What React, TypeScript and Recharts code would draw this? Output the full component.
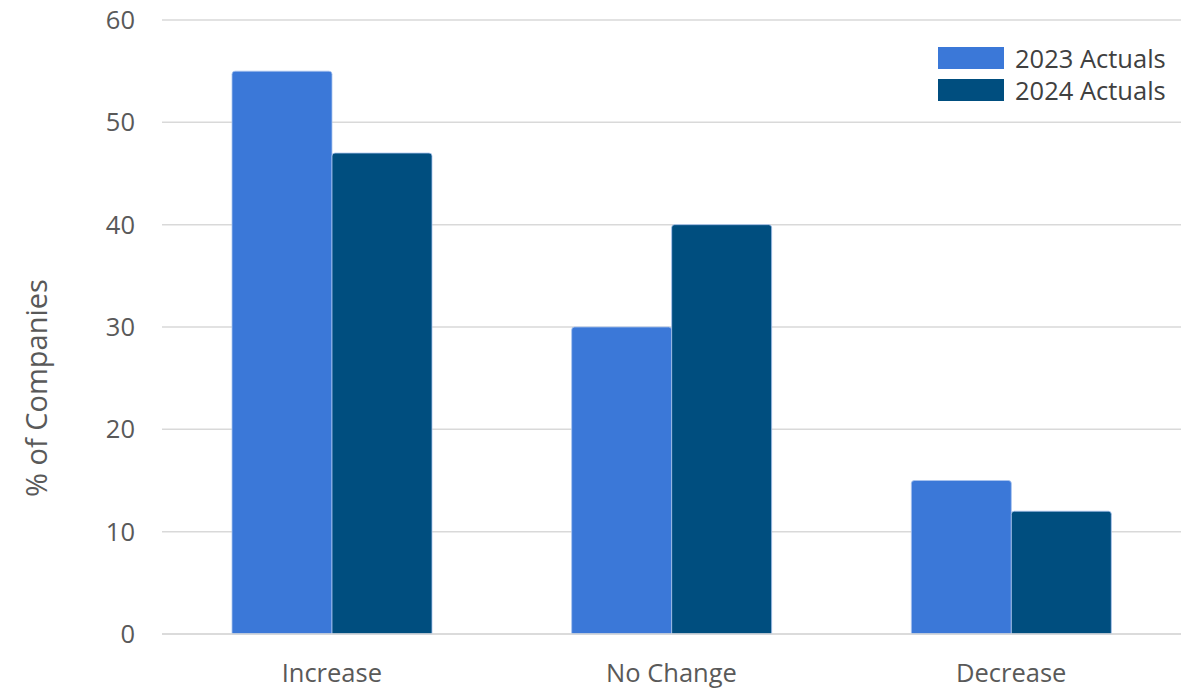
import { Bar, BarChart, CartesianGrid, Label, XAxis, YAxis } from 'recharts';

const categories = ['Increase', 'No Change', 'Decrease'];
const actuals2023 = [55, 30, 15];
const actuals2024 = [47, 40, 12];
const yTicks = [0, 10, 20, 30, 40, 50, 60];

const series = [
  { key: 'a2023', label: '2023 Actuals', color: '#3b78d8' },
  { key: 'a2024', label: '2024 Actuals', color: '#004e7f' },
];

const data = categories.map((name, i) => ({ name, a2023: actuals2023[i], a2024: actuals2024[i] }));

const FONT = '"Open Sans", "Noto Sans", sans-serif';
const TEXT = '#595959';

function LegendBox() {
  return (
    <div style={{ position: 'absolute', left: 938, top: 42, fontFamily: FONT }}>
      {series.map((s) => (
        <div key={s.key} style={{ display: 'flex', alignItems: 'center', height: 32 }}>
          <span style={{ width: 66, height: 22, background: s.color, marginRight: 11, display: 'inline-block' }} />
          <span style={{ fontSize: 25.5, color: '#404040', whiteSpace: 'nowrap' }}>{s.label}</span>
        </div>
      ))}
    </div>
  );
}

function AxisTitle(props: any) {
  const vb = props.viewBox;
  const x = vb.x + 35;
  const y = vb.y + vb.height / 2 + 61;
  return (
    <text x={x} y={y} transform={`rotate(-90 ${x} ${y})`} textAnchor="middle" dominantBaseline="central" fontSize={29} fill={TEXT} fontFamily={FONT}>
      % of Companies
    </text>
  );
}

export default function App() {
  return (
    <div style={{ position: 'absolute', left: 0, top: 0, width: 1182, height: 689, background: '#fff' }}>
      <BarChart width={1182} height={689} data={data} margin={{ top: 20, right: 1, bottom: 0, left: 0 }} barCategoryGap={70} barGap={0}>
        <CartesianGrid stroke="#d9d9d9" strokeWidth={1.5} vertical={false} />
        <XAxis
          dataKey="name"
          height={55}
          tickLine={false}
          axisLine={{ stroke: '#d9d9d9', strokeWidth: 1.5 }}
          tickSize={0}
          tickMargin={30}
          tick={{ fontSize: 25.5, fill: TEXT, fontFamily: FONT }}
        />
        <YAxis
          width={162}
          domain={[0, 60]}
          ticks={yTicks}
          interval={0}
          tickLine={false}
          axisLine={false}
          tickSize={0}
          tickMargin={27}
          tick={{ fontSize: 25.5, fill: TEXT, fontFamily: FONT }}
        >
          <Label content={AxisTitle} />
        </YAxis>
        {series.map((s) => (
          <Bar key={s.key} dataKey={s.key} name={s.label} fill={s.color} stroke="#a9c4ef" strokeWidth={0.8} radius={[3, 3, 0, 0]} isAnimationActive={false} />
        ))}
      </BarChart>
      <LegendBox />
    </div>
  );
}
